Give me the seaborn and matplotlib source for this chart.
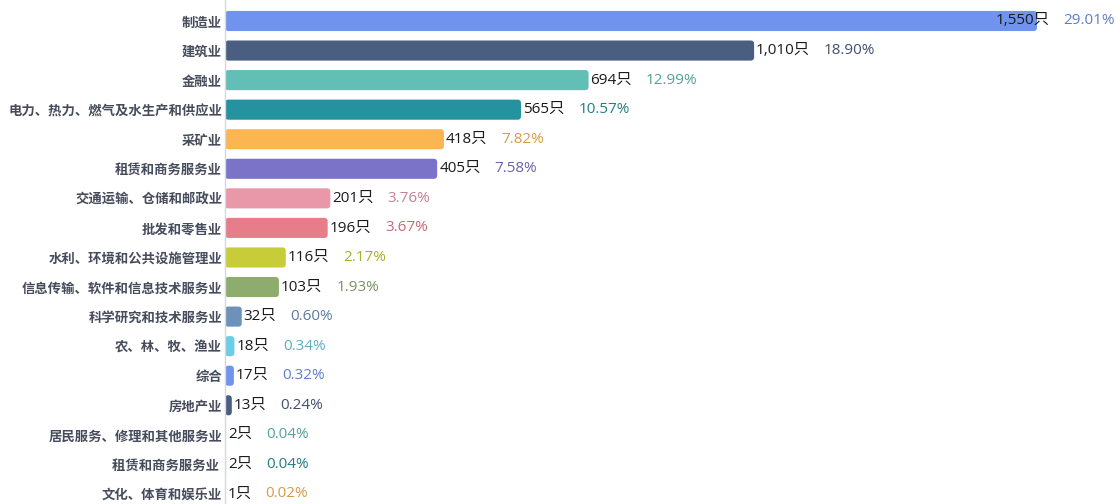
import matplotlib
matplotlib.use("Agg")
import matplotlib.pyplot as plt
import seaborn as sns
import pandas as pd
import numpy as np
from matplotlib.patches import FancyBboxPatch
from matplotlib.colors import to_rgb

categories = ["制造业", "建筑业", "金融业", "电力、热力、燃气及水生产和供应业", "采矿业",
              "租赁和商务服务业", "交通运输、仓储和邮政业", "批发和零售业", "水利、环境和公共设施管理业",
              "信息传输、软件和信息技术服务业", "科学研究和技术服务业", "农、林、牧、渔业", "综合",
              "房地产业", "居民服务、修理和其他服务业", "租赁和商务服务业 ", "文化、体育和娱乐业"]
counts = [1550, 1010, 694, 565, 418, 405, 201, 196, 116, 103, 32, 18, 17, 13, 2, 2, 1]
palette = ["#6f93ee", "#4a5e82", "#62bfb6", "#25939f", "#fbb652", "#7b73c8", "#e898a8",
           "#e87d8a", "#c7cc39", "#8eac6e", "#6e91b9", "#6ccde8", "#6f93ee", "#4a5e82",
           "#62bfb6", "#25939f", "#fbb652"]

sns.set_theme(style="white")
plt.rcParams['font.family'] = ['Noto Sans CJK SC', 'DejaVu Sans']

df = pd.DataFrame({"cat": categories, "count": counts})
total = sum(counts)

fig = plt.figure(figsize=(11.17, 5.04), dpi=100)
ax = fig.add_axes([225/1117, 0, 1 - 225/1117, 1])
sns.barplot(data=df, x="count", y="cat", hue="cat", palette=palette, legend=False,
            orient="h", width=0.68, ax=ax, saturation=1)

xmax = (1117 - 225) / ((1037 - 225) / 1550)
ax.set_xlim(0, xmax)
ax.set_ylim(16.34, -0.71)

# rounded bars
px_per_x = (1037 - 225) / 1550
px_per_y = 29.56
r_px = 3.5
for p in list(ax.patches):
    x0, y0, w, h = p.get_x(), p.get_y(), p.get_width(), p.get_height()
    fc = p.get_facecolor()
    p.remove()
    w_px = w * px_per_x
    rp = min(r_px, w_px / 2)
    rs = rp / px_per_x
    fb = FancyBboxPatch((x0, y0), w, h,
                        boxstyle=f"round,pad=0,rounding_size={rs}",
                        mutation_aspect=(rp / px_per_y) / rs if rs > 0 else 1,
                        facecolor=fc, edgecolor="none")
    ax.add_patch(fb)

ax.set_xlabel("")
ax.set_ylabel("")
ax.set_xticks([])
ax.set_yticks(range(len(categories)))
ax.set_yticklabels(categories, fontsize=9.6, fontweight="bold", color="#464c5c")
ax.tick_params(axis="y", length=0, pad=2)
for s in ["top", "right", "bottom"]:
    ax.spines[s].set_visible(False)
ax.spines["left"].set_color("#d5d8dd")
ax.spines["left"].set_linewidth(1)

num_family = ['Open Sans', 'Noto Sans CJK SC']
fig.canvas.draw()
renderer = fig.canvas.get_renderer()
max_start = 1471
for i, v in enumerate(counts):
    xs = min(v + 2 / px_per_x, max_start)
    t = ax.text(xs, i, f"{v:,}只", va="center", ha="left", fontsize=11,
                color="#1a1a1a", family=num_family)
    bb = t.get_window_extent(renderer)
    end_px = bb.x1
    xd = ax.transData.inverted().transform((end_px + 14, 0))[0]
    c = np.array(to_rgb(palette[i])) * 0.85
    ax.text(xd, i, f"{v / total * 100:.2f}%", va="center", ha="left", fontsize=11,
            color=c, family=num_family)

fig.savefig("out.png", dpi=100)
